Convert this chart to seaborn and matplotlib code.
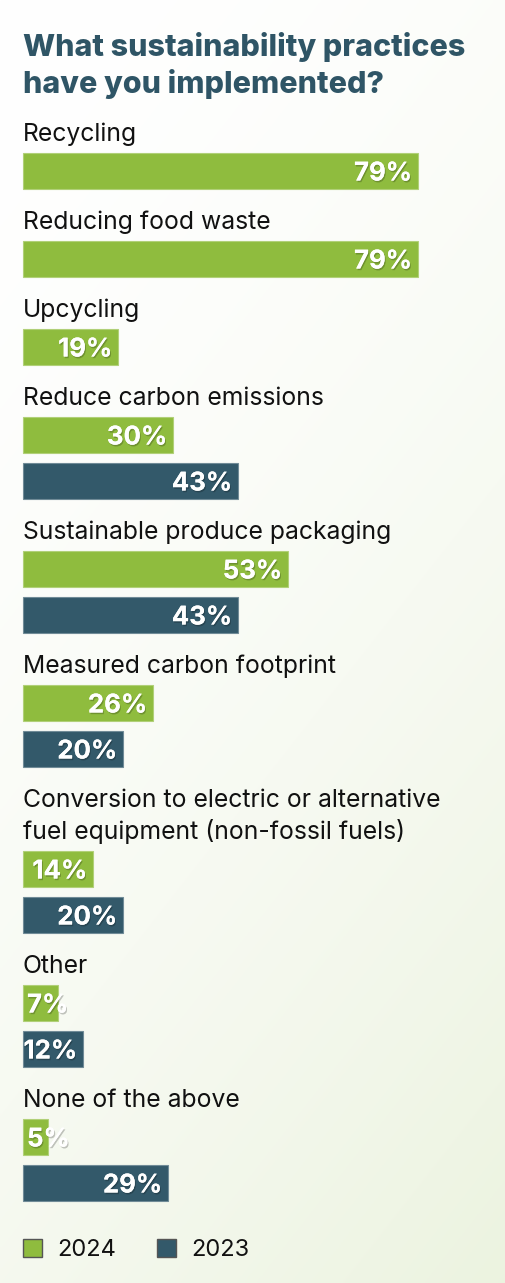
import numpy as np
import pandas as pd
import matplotlib
matplotlib.use("Agg")
import matplotlib.pyplot as plt
import matplotlib.patheffects as pe
from matplotlib.patches import Patch
import seaborn as sns

# ---------------- data ----------------
title_lines = ["What sustainability practices", "have you implemented?"]
categories = [
    "Recycling",
    "Reducing food waste",
    "Upcycling",
    "Reduce carbon emissions",
    "Sustainable produce packaging",
    "Measured carbon footprint",
    "Conversion to electric or alternative\nfuel equipment (non-fossil fuels)",
    "Other",
    "None of the above",
]
values_2024 = [79, 79, 19, 30, 53, 26, 14, 7, 5]
values_2023 = [None, None, None, 43, 43, 20, 20, 12, 29]
years = ["2024", "2023"]

# ---------------- style ----------------
W, H, DPI = 505, 1283, 100
GREEN = "#8fbc3e"
TEAL = "#33596a"
TITLE_C = "#2f5566"
PX_PER_PCT = 5.0
LEFT_PX = 23
BAR_H = 36
BAR_GAP = 10
LABEL_TO_BAR = 12
BAR_TO_LABEL = 40
LINE_H = 32
FIRST_BASELINE = 141

sns.set_theme(style="white")
plt.rcParams["font.family"] = ["Inter", "DejaVu Sans"]

# ---------------- layout (computed) ----------------
rows = []
label_pos = []
y = FIRST_BASELINE
for i, cat in enumerate(categories):
    nlines = cat.count("\n") + 1
    label_pos.append(y)
    top = y + (nlines - 1) * LINE_H + LABEL_TO_BAR
    for yr, vals in zip(years, [values_2024, values_2023]):
        v = vals[i]
        if v is None:
            continue
        rows.append({"category": cat, "year": yr, "value": v, "pos": top + BAR_H / 2})
        top += BAR_H + BAR_GAP
    y = top - BAR_GAP + BAR_TO_LABEL
df = pd.DataFrame(rows)
legend_y = y - BAR_TO_LABEL + 49

positions = np.sort(df["pos"].unique())
min_step = np.min(np.diff(positions))

fig = plt.figure(figsize=(W / DPI, H / DPI), dpi=DPI)
ax = fig.add_axes([0, 0, 1, 1])

# background gradient
gx, gy = np.meshgrid(np.linspace(0, 1, 200), np.linspace(0, 1, 500))
g = np.clip((0.5 * gx + 1.0 * gy) / 1.5, 0, 1) ** 1.6
c0 = np.array([1.0, 1.0, 1.0])
c1 = np.array([0.925, 0.953, 0.878])
img = c0[None, None, :] * (1 - g[..., None]) + c1[None, None, :] * g[..., None]
xmin = -LEFT_PX / PX_PER_PCT
xmax = (W - LEFT_PX) / PX_PER_PCT
ax.imshow(img, extent=[xmin, xmax, H, 0], aspect="auto", zorder=0)

sns.barplot(
    data=df, x="value", y="pos", hue="year", hue_order=years,
    palette={"2024": GREEN, "2023": TEAL}, orient="y", native_scale=True,
    dodge=False, width=BAR_H / min_step, ax=ax, legend=False,
    linewidth=0.8, zorder=2, saturation=1,
)
for p in ax.patches:
    fc = np.array(p.get_facecolor()[:3])
    p.set_edgecolor(tuple(fc + (1 - fc) * 0.3))

ax.set_xlim(xmin, xmax)
ax.set_ylim(H, 0)
ax.axis("off")

# value labels
shadow = [pe.withSimplePatchShadow(offset=(0.8, -1.2), shadow_rgbFace="black", alpha=0.22),
          pe.Normal()]
for _, r in df.iterrows():
    v = r["value"]
    if v >= 10:
        x, ha = v - 1.2, "right"
    else:
        x, ha = 0.8, "left"
    ax.text(x, r["pos"] + 9.5, f"{v}%", ha=ha, va="baseline",
            color="white", fontsize=18.6, fontweight="bold", zorder=4,
            path_effects=shadow)

# category labels (one text per line)
for cat, yb in zip(categories, label_pos):
    for k, line in enumerate(cat.split("\n")):
        ax.text(0, yb + k * LINE_H, line, ha="left", va="baseline",
                color="#111111", fontsize=17.8, zorder=3)

# title
for k, line in enumerate(title_lines):
    ax.text(0, 56 + k * 37, line, ha="left", va="baseline", color=TITLE_C,
            fontsize=21.9, fontweight="extra bold", zorder=3)

# legend
handles = [Patch(facecolor=GREEN, edgecolor="#555555", linewidth=1.0, label="2024"),
           Patch(facecolor=TEAL, edgecolor="#555555", linewidth=1.0, label="2023")]
fig.legend(handles=handles, ncol=2, frameon=False, fontsize=17,
           loc="center left", bbox_to_anchor=(LEFT_PX / W, 1 - legend_y / H),
           borderaxespad=0, borderpad=0,
           handlelength=0.8, handleheight=0.8, handletextpad=0.65,
           columnspacing=1.75, labelcolor="#111111")

fig.savefig("out.png", dpi=DPI)
